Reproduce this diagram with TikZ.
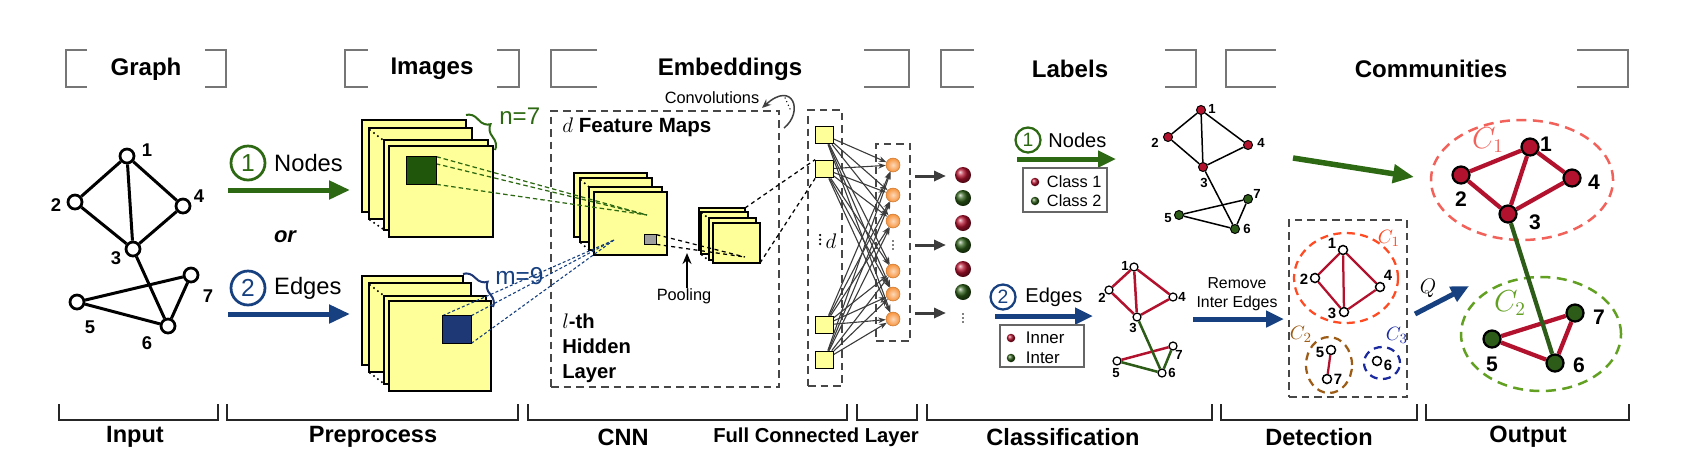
\documentclass[tikz,border=0pt]{standalone}
\usepackage{fontspec}
\setmainfont{Liberation Sans}
\usepackage{tikz}
\usetikzlibrary{arrows.meta,positioning,calc,decorations.pathreplacing}
\definecolor{Leaf}{HTML}{2D6912}
\definecolor{LeafBox}{HTML}{1F560C}
\definecolor{Navy}{HTML}{16407F}
\definecolor{NavyBox}{HTML}{1E3775}
\definecolor{Sheet}{HTML}{FFFF99}
\definecolor{Crim}{HTML}{B3122E}
\definecolor{Moss}{HTML}{2C5C17}
\definecolor{Frame}{HTML}{767676}
\definecolor{Dash}{HTML}{474747}
\definecolor{Wire}{HTML}{3C3C3C}
\definecolor{Peel}{HTML}{F7923A}
\definecolor{RingOne}{HTML}{F2625A}
\definecolor{RingTwo}{HTML}{62A022}
\definecolor{DetOne}{HTML}{FF4A22}
\definecolor{DetTwo}{HTML}{9C5C16}
\definecolor{DetThree}{HTML}{1C2AA0}
\newcommand{\fsz}[1]{\fontsize{#1}{#1}\selectfont}
\tikzset{
 title/.style={font=\bfseries\fsz{13.7},inner sep=0},
 stage/.style={font=\bfseries\fsz{13.4},inner sep=0},
 brk/.style={draw=Frame,line width=0.55mm},
 sbrk/.style={draw=black!85,line width=0.3mm},
 sheet/.style={draw=black,fill=Sheet,line width=0.28mm},
 sdots/.style={line width=0.45mm,line cap=round,dash pattern=on 0pt off 1mm},
 vdot/.style={line width=0.5mm,line cap=round,dash pattern=on 0pt off 0.9mm},
 dbox/.style={draw=Dash,dash pattern=on 1.5mm off 1mm,line width=0.42mm,inner sep=0},
 gv/.style={circle,draw=black,fill=white,line width=0.55mm,minimum size=2.8mm,inner sep=0},
 gl/.style={font=\bfseries\fsz{10.5},inner sep=0},
 ge/.style={line width=0.6mm},
 num/.style={circle,line width=0.55mm,minimum size=6.8mm,inner sep=0,font=\fsz{14}},
 smallnum/.style={num,line width=0.45mm,minimum size=5mm,font=\fsz{11}},
 word/.style={anchor=west,inner sep=0,font=\fsz{13.5}},
 bigarr/.style={-{Triangle[length=4.2mm,width=3.6mm]},line width=1mm},
 midarr/.style={-{Triangle[length=3.6mm,width=3.2mm]},line width=1mm},
 recep/.style={draw=black,line width=0.28mm},
 gline/.style={draw=Leaf,line width=0.25mm,dash pattern=on 0.9mm off 0.6mm},
 bline/.style={draw=Navy,line width=0.22mm,dash pattern=on 0.6mm off 0.45mm},
 kline/.style={draw=black,line width=0.25mm,dash pattern=on 0.8mm off 0.7mm},
 fcsq/.style={draw=black,fill=Sheet,line width=0.25mm,minimum size=3.5mm,inner sep=0},
 neuron/.style={circle,draw=Peel!80!black,line width=0.1mm,inner color=Peel!35!white,outer color=Peel,minimum size=2.8mm,inner sep=0},
 lab/.style={circle,minimum size=3.2mm,inner sep=0},
 fcw/.style={draw=Wire,line width=0.22mm,-{Stealth[length=1.5mm,width=1.1mm]}},
 oarr/.style={draw=Wire,line width=0.6mm,-{Triangle[length=2.4mm,width=2mm]}},
 note/.style={inner sep=0,font=\fsz{9.3}},
 legbox/.style={draw=gray!80!black,line width=0.3mm,minimum width=16.8mm,minimum height=8.8mm},
 av/.style={circle,draw=black,line width=0.2mm,minimum size=1.8mm,inner sep=0},
 ae/.style={line width=0.3mm},
 al/.style={font=\bfseries\fsz{7.5},inner sep=0},
 bv/.style={circle,draw=black,fill=white,line width=0.25mm,minimum size=1.6mm,inner sep=0},
 be/.style={line width=0.5mm},
 cv/.style={circle,draw=black,fill=white,line width=0.3mm,minimum size=1.8mm,inner sep=0},
 ce/.style={line width=0.45mm,draw=Crim},
 cl/.style={font=\bfseries\fsz{8.5},inner sep=0},
 dv/.style={circle,draw=black,line width=0.45mm,minimum size=3.4mm,inner sep=0},
 de/.style={line width=0.85mm},
 dl/.style={font=\bfseries\fsz{12},inner sep=0},
 ring/.style={line width=0.45mm,dash pattern=on 1.6mm off 1.1mm},
 bigring/.style={line width=0.5mm,dash pattern=on 2mm off 1.3mm}
}
\begin{document}
\begin{tikzpicture}[x=0.2mm,y=-0.2mm]
\useasboundingbox (0,0) rectangle (1690,462);
% headings on top
\foreach \xa/\xb/\xc/\xd/\xm/\txt in {66/87/205/226/146/Graph,345/368/497/519/432/Images,551/597/864/909/730/Embeddings,941/974/1165/1196/1070/Labels,1226/1276/1577/1628/1431/Communities}{
  \draw[brk] (\xb,50) -- (\xa,50) -- (\xa,87) -- (\xb,87);
  \draw[brk] (\xc,50) -- (\xd,50) -- (\xd,87) -- (\xc,87);
  \node[title] (h\txt) at (\xm,69) {\txt};
}
% stages at the bottom
\foreach \xa/\xb/\xm/\txt in {59/218/135/Input,227/518/373/Preprocess,528/847/623/CNN,927/1212/1063/Classification,1221/1417/1319/Detection,1426/1629/1528/Output}{
  \draw[sbrk] (\xa,404) -- (\xa,420) -- (\xb,420) -- (\xb,404);
  \node[stage] (s\txt) at (\xm,437) {\txt};
}
\draw[sbrk] (857,404) -- (857,420) -- (917,420) -- (917,404);
\node[stage,font=\bfseries\fsz{11.5}] (sFC) at (816,437) {Full Connected Layer};

% input graph
\foreach \i/\x/\y in {1/127/156,2/75/202,3/133/249,4/183/206,5/77/302,6/168/326,7/191/275}
  \node[gv] (gi\i) at (\x,\y) {};
\foreach \i/\j in {1/2,1/3,1/4,2/3,4/3,3/6,5/7,5/6,7/6}
  \draw[ge] (gi\i) -- (gi\j);
\foreach \i/\x/\y in {1/147/150,2/56/205,3/116/258,4/199/196,5/90/327,6/147/343,7/208/296}
  \node[gl] (gt\i) at (\x,\y) {\i};

% two ways in
\node[num,draw=Leaf,text=Leaf] (cn1) at (248,163) {1};
\node[word,right=1.5mm of cn1] (wN) {Nodes};
\node[num,draw=Navy,text=Navy] (cn2) at (248,288) {2};
\node[word,right=1.5mm of cn2] (wE) {Edges};
\node[font=\bfseries\itshape\fsz{12.5},inner sep=0] (wor) at (285,237) {or};
\coordinate (na0) at (228,190); \coordinate (na1) at (350,190);
\coordinate (ea0) at (228,314); \coordinate (ea1) at (350,314);
\draw[bigarr,Leaf] (na0) -- (na1);
\draw[bigarr,Navy] (ea0) -- (ea1);

% dashed frames
\node[dbox,minimum width=45.6mm,minimum height=55.2mm] (cnnB) at (665,249) {};
\node[dbox,minimum width=6.8mm,minimum height=55.2mm] (fcB) at (825,248) {};
\node[dbox,minimum width=6.8mm,minimum height=39.4mm] (outB) at (893,242.5) {};
\node[dbox,minimum width=23.6mm,minimum height=35.4mm] (detB) at (1348,308.5) {};

% image stacks, feature maps, pooled maps
\foreach \xa/\ya/\xb/\yb in {362/120/466/212,369/128/472/219,384/140/488/230,389/146/493/237,
  362/276/463/365,369/283/471/372,384/296/486/384,389/301/491/391,
  574/173/647/237,580/178/652/242,589/187/662/250,594/192/667/255,
  699/208/745/250,701/212/748/254,709/218/756/260,713/223/760/263}
  \draw[sheet] (\xa,\ya) rectangle (\xb,\yb);
\foreach \xa/\ya/\xb/\yb in {370/130/383/140,370/220/383/229,370/285/383/295,370/373/383/383,581/180/589/187,581/243/589/250,702/213/708/218,702/255/708/260}
  \draw[sdots] (\xa,\ya) -- (\xb,\yb);

% receptive fields
\coordinate (fmA) at (647,215);
\coordinate (fmB) at (614,240);
\coordinate (plA) at (745,257);
\coordinate (plT) at (745,208);
\coordinate (plB) at (760,263);
\node[minimum width=5.8mm,minimum height=5.4mm,inner sep=0] (rfN) at (421.5,170.5) {};
\node[minimum width=5.6mm,minimum height=5.4mm,inner sep=0] (rfE) at (457,329.5) {};
\node[minimum width=2.2mm,minimum height=1.8mm,inner sep=0] (rfP) at (650.5,239.5) {};
\foreach \c in {north west,north east,south east} \draw[gline] (rfN.\c) -- (fmA);
\foreach \c in {north west,north east,south east} \draw[bline] (rfE.\c) -- (fmB);
\foreach \c in {north east,south east} \draw[kline] (rfP.\c) -- (plA);
\draw[recep,fill=LeafBox] (rfN.north west) rectangle (rfN.south east);
\draw[recep,fill=NavyBox] (rfE.north west) rectangle (rfE.south east);
\draw[recep,fill=gray!75] (rfP.north west) rectangle (rfP.south east);

% braces
\draw[decorate,decoration={brace,amplitude=2.6mm},draw=Leaf,line width=0.4mm] (466,115) -- (495,150);
\node[anchor=west,inner sep=0,font=\fsz{13.7},text=Leaf] (nn) at (499,116) {n=7};
\draw[decorate,decoration={brace,amplitude=2.6mm},draw=NavyBox,line width=0.4mm] (463,274) -- (493,307);
\node[anchor=west,inner sep=0,font=\fsz{13.9},text=Navy] (mm) at (495,276) {m=9};

% CNN captions
\node[anchor=west,inner sep=0,font=\fsz{11.7}] (fmT) at (562,127) {$d$ \textbf{Feature Maps}};
\node[anchor=west,align=left,inner sep=0,font=\bfseries\fontsize{11.5}{14.2}\selectfont] (hid) at (562,348) {$l$-th\\Hidden\\Layer};
\node[note] (pool) at (684,296) {Pooling};
\coordinate (poolT) at (687,253);
\draw[line width=0.45mm,-{Stealth[length=2.2mm,width=1.8mm]}] (poolT |- pool.north) -- (poolT);
\node[note] (conv) at (712,98) {Convolutions};
\coordinate (cvA) at (784,128); \coordinate (cvB) at (762,108);
\draw[line width=0.3mm,draw=black!75,-{Stealth[length=1.8mm,width=1.5mm]}] (cvA) .. controls (804,112) and (793,80) .. (cvB);
\draw[sdots,line width=0.3mm,dash pattern=on 0pt off 0.8mm] (785,98) -- (790,109);

% fully connected layer
\foreach \i/\y in {1/135,2/169,3/325,4/360}
  \node[fcsq] (fs\i) at (824.5,\y) {};
\draw[vdot] (820,235) -- (820,248);
\node[inner sep=0,font=\fsz{11.5}] (dd) at (831,241) {$d$};
\draw[kline] (plT) -- (fs2.north west);
\draw[kline] (plB) -- (fs2.south west);
\foreach \i/\y in {1/165,2/195,3/221,4/271,5/294,6/319}
  \node[neuron] (fn\i) at (893,\y) {};
\draw[vdot,line width=0.35mm,dash pattern=on 0pt off 0.8mm] (893,241) -- (893,253);
\foreach \s in {1,...,4}
  \foreach \n in {1,...,6}
    \draw[fcw] (fs\s) -- (fn\n);

% predicted labels
\foreach \k/\y in {1/176,2/245,3/313}{
  \coordinate (oa\k) at (915,\y); \coordinate (ob\k) at (946,\y);
  \draw[oarr] (oa\k) -- (ob\k);
}
\foreach \i/\y/\col in {1/175/Crim,2/198/Moss,3/223/Crim,4/245/Moss,5/269/Crim,6/292/Moss}
  \node[lab,ball color=\col] (fd\i) at (963,\y) {};
\draw[vdot,line width=0.35mm,dash pattern=on 0pt off 0.8mm] (963,314) -- (963,326);

% labels: nodes
\node[smallnum,draw=Leaf,text=Leaf] (cl1) at (1028,140) {1};
\node[word,font=\fsz{11.4},right=1.3mm of cl1] (lN) {Nodes};
\coordinate (la0) at (1017,159); \coordinate (la1) at (1116,159);
\draw[midarr,Leaf] (la0) -- (la1);
\node[legbox] (kA) at (1065,190) {};
\node[lab,minimum size=1.7mm,ball color=Crim] (kA1) at (1035,182) {};
\node[lab,minimum size=1.7mm,ball color=Moss] (kA2) at (1035,201) {};
\node[word,font=\fsz{9.3},right=1.4mm of kA1] (kA1t) {Class 1};
\node[word,font=\fsz{9.3},right=1.4mm of kA2] (kA2t) {Class 2};
\foreach \i/\x/\y/\col in {1/1201/110/Crim,2/1168/137/Crim,3/1203/167/Crim,4/1248/145/Crim,5/1179/215/Moss,6/1235/229/Moss,7/1248/199/Moss}
  \node[av,fill=\col] (ln\i) at (\x,\y) {};
\foreach \i/\j in {1/2,1/3,1/4,2/3,4/3,3/6,5/7,5/6,7/6}
  \draw[ae] (ln\i) -- (ln\j);
\foreach \i/\x/\y in {1/1212/109,2/1155/143,3/1204/183,4/1261/143,5/1168/218,6/1247/229,7/1257/194}
  \node[al] (lt\i) at (\x,\y) {\i};

% labels: edges
\node[smallnum,draw=Navy,text=Navy] (cl2) at (1003,297) {2};
\node[word,font=\fsz{11.4},right=1.7mm of cl2] (lE) {Edges};
\coordinate (lb0) at (995,316); \coordinate (lb1) at (1093,316);
\draw[midarr,Navy] (lb0) -- (lb1);
\node[legbox,minimum height=8.4mm] (kB) at (1042,346) {};
\node[lab,minimum size=1.7mm,ball color=Crim] (kB1) at (1011,338) {};
\node[lab,minimum size=1.7mm,ball color=Moss] (kB2) at (1011,358) {};
\node[word,font=\fsz{9.6},right=2mm of kB1] (kB1t) {Inner};
\node[word,font=\fsz{9.6},right=2mm of kB2] (kB2t) {Inter};
\foreach \i/\x/\y in {1/1134/267,2/1109/290,3/1137/317,4/1173/297,5/1117/361,6/1162/373,7/1173/346}
  \node[bv] (le\i) at (\x,\y) {};
\foreach \i/\j in {1/2,1/3,1/4,2/3,4/3,5/7}
  \draw[be,Crim] (le\i) -- (le\j);
\foreach \i/\j in {3/6,5/6,7/6}
  \draw[be,Moss] (le\i) -- (le\j);
\foreach \i/\x/\y in {1/1125/266,2/1102/298,3/1133/328,4/1182/297,5/1116/373,6/1172/373,7/1179/355}
  \node[al] (et\i) at (\x,\y) {\i};

% detection
\node[inner sep=0,align=center,font=\fontsize{9}{11}\selectfont] (rmv) at (1237,294) {Remove\\Inter Edges};
\coordinate (rm0) at (1193,319); \coordinate (rm1) at (1284,319);
\draw[midarr,Navy] (rm0) -- (rm1);
\draw[ring,DetOne] (1346,278) ellipse [x radius=10.4mm,y radius=9mm];
\draw[ring,DetTwo] (1329,365) ellipse [x radius=4.6mm,y radius=5.6mm];
\draw[ring,DetThree] (1382,363) ellipse [x radius=3.6mm,y radius=3.2mm];
\node[inner sep=0,font=\fsz{11},text=DetOne] (dC1) at (1389,238) {$C_1$};
\node[inner sep=0,font=\fsz{11},text=DetTwo] (dC2) at (1301,334) {$C_2$};
\node[inner sep=0,font=\fsz{11},text=DetThree] (dC3) at (1397,335) {$C_3$};
\foreach \i/\x/\y in {1/1343/250,2/1315/278,3/1344/312,4/1380/287,5/1331/350,6/1377/361,7/1327/379}
  \node[cv] (dt\i) at (\x,\y) {};
\foreach \i/\j in {1/2,1/3,1/4,2/3,4/3,5/7}
  \draw[ce] (dt\i) -- (dt\j);
\foreach \i/\x/\y in {1/1332/243,2/1304/279,3/1332/313,4/1388/275,5/1320/352,6/1388/365,7/1338/379}
  \node[cl] (ct\i) at (\x,\y) {\i};

% communities
\coordinate (ga0) at (1293,158); \coordinate (ga1) at (1414,177);
\draw[bigarr,Leaf,line width=1.1mm] (ga0) -- (ga1);
\coordinate (qa0) at (1415,314); \coordinate (qa1) at (1469,286);
\draw[midarr,Navy] (qa0) -- (qa1);
\node[inner sep=0,font=\fsz{13}] (qq) at (1428,288) {$Q$};
\draw[bigring,RingOne] (1522,180) ellipse [x radius=18.2mm,y radius=12mm];
\draw[bigring,RingTwo] (1541,334) ellipse [x radius=16mm,y radius=11.4mm];
\node[inner sep=0,font=\fsz{16},text=RingOne] (oC1) at (1488,140) {$C_1$};
\node[inner sep=0,font=\fsz{16},text=RingTwo] (oC2) at (1510,303) {$C_2$};
\foreach \i/\x/\y in {1/1530/147,2/1461/175,3/1508/214,4/1572/178}
  \node[dv,fill=Crim] (ou\i) at (\x,\y) {};
\foreach \i/\x/\y in {5/1492/339,6/1555/363,7/1575/313}
  \node[dv,fill=Moss] (ou\i) at (\x,\y) {};
\foreach \i/\j in {1/2,1/3,1/4,2/3,4/3,5/7,5/6,7/6}
  \draw[de,Crim] (ou\i) -- (ou\j);
\draw[de,Moss] (ou3) -- (ou6);
\foreach \i/\x/\y in {1/1546/144,2/1461/199,3/1535/222,4/1594/182,5/1492/364,6/1579/365,7/1599/317}
  \node[dl] (ot\i) at (\x,\y) {\i};
\end{tikzpicture}
\end{document}
